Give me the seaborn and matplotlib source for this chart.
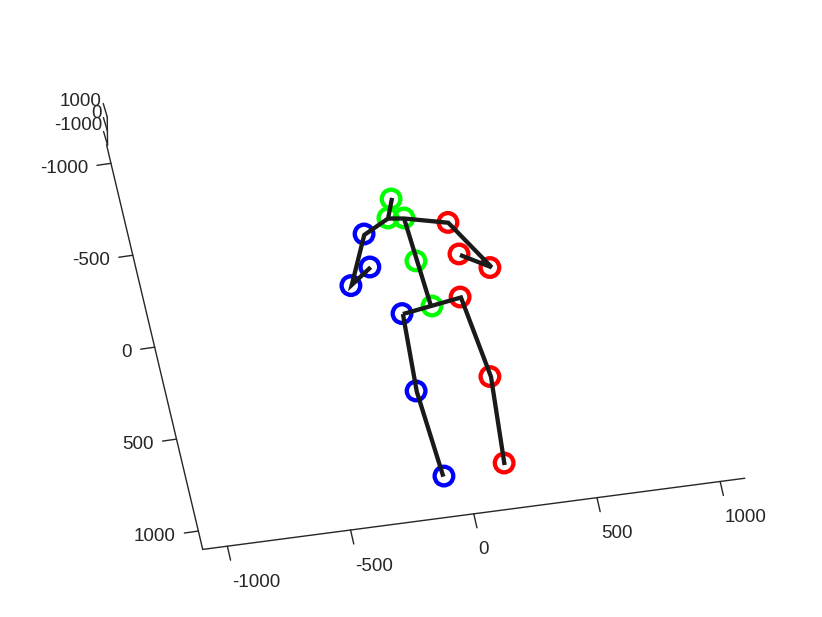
import matplotlib
matplotlib.use("Agg")
import matplotlib.pyplot as plt
import numpy as np
import pandas as pd
import seaborn as sns

# axis ticks
x_ticks = [-1000, -500, 0, 500, 1000]
y_ticks = [-1000, -500, 0, 500, 1000]
z_ticks = [-1000, 0, 1000]
axis_lim = 1100

# joint markers in data units
joint_x = [-31, -61, 2, 9, 30, -170, -270, -178, 171, 294, 185, 149, 192, 167, -95, -112, -82]
joint_y = [-618, -520, -509, -274, -25, -452, -189, -274, -455, -188, -281, -53, 387, 853, -6, 412, 880]
joint_group = ["g", "g", "g", "g", "g", "b", "b", "b", "r", "r", "r", "r", "r", "r", "b", "b", "b"]

# bones as chains of points
bone_chain = [0] * 5 + [1] * 5 + [2] * 2 + [3] * 4 + [4] * 3
bone_x = [-26, -61, -170, -266, -175,
          -61, 2, 172, 301, 188,
          2, 26,
          -92, 152, 196, 167,
          -92, -110, -85]
bone_y = [-623, -517, -447, -192, -272,
          -517, -506, -453, -188, -275,
          -506, -26,
          -3, -50, 389, 864,
          -3, 416, 883]

# view of the 3D box, pixels per data unit
origin = np.array([425.7, 311.6])
ex = np.array([0.2464, -0.03235])
ey = np.array([0.0437, 0.18385])
ez = np.array([-0.00015, -0.014])
z_corner = np.array([107.4, 131.0])
axis_color = "#262626"
group_colors = {"r": "#ff0000", "g": "#00ff00", "b": "#0000ff"}


def project(x, y):
    x = np.asarray(x, dtype=float)
    y = np.asarray(y, dtype=float)
    return origin[0] + x * ex[0] + y * ey[0], origin[1] + x * ex[1] + y * ey[1]


sns.set_theme(style="white")
plt.rcParams["font.family"] = ["Liberation Sans", "DejaVu Sans"]

fig = plt.figure(figsize=(8.22, 6.17), dpi=100)
ax = fig.add_axes([0, 0, 1, 1])
ax.set_xlim(0, 822)
ax.set_ylim(617, 0)
ax.axis("off")

# box edges
px, py = project([axis_lim, -axis_lim, -axis_lim], [axis_lim, axis_lim, -axis_lim])
ax.plot(px, py, color=axis_color, lw=1.0, solid_joinstyle="miter")

# x ticks
for t in x_ticks:
    a, b = project(t, axis_lim)
    ax.plot([a, a + 3.2], [b, b + 14], color=axis_color, lw=1.0)
    ax.text(a + 4.5, b + 36, str(t), ha="left", va="center", fontsize=13.5, color=axis_color)

# y ticks
for t in y_ticks:
    a, b = project(-axis_lim, t)
    ax.plot([a, a - 14], [b, b + 2], color=axis_color, lw=1.0)
    ax.text(a - 23, b + 5, str(t), ha="right", va="center", fontsize=13.5, color=axis_color)

# z axis, squeezed together by the view angle
zx = [z_corner[0] + t * ez[0] for t in z_ticks]
zy = [z_corner[1] + t * ez[1] for t in z_ticks]
ax.plot(zx, zy, color=axis_color, lw=1.0)
for t, a, b in zip(z_ticks, zx, zy):
    ax.plot([a, a - 4], [b, b - 13.5], color=axis_color, lw=1.0)
    ax.text(a - 5.5, 113.5 - t * 0.0125, str(t), ha="right", va="center", fontsize=13.5, color=axis_color)

joints = pd.DataFrame({"group": joint_group})
joints["px"], joints["py"] = project(joint_x, joint_y)
sns.scatterplot(data=joints, x="px", y="py", hue="group", palette=group_colors, ax=ax,
                s=180, linewidth=3.1, legend=False, zorder=3)
# scatterplot colours the face through hue, move it onto the edge
coll = ax.collections[-1]
coll.set_edgecolors([group_colors[g] for g in joint_group])
coll.set_facecolors("none")

bones = pd.DataFrame({"chain": bone_chain})
bones["px"], bones["py"] = project(bone_x, bone_y)
sns.lineplot(data=bones, x="px", y="py", units="chain", estimator=None, sort=False,
             color="#1a1a1a", lw=3.1, ax=ax, legend=False, zorder=4,
             solid_joinstyle="miter", solid_capstyle="butt")
ax.set_xlim(0, 822)
ax.set_ylim(617, 0)
ax.set_xlabel("")
ax.set_ylabel("")

fig.savefig("out.png", dpi=100)
